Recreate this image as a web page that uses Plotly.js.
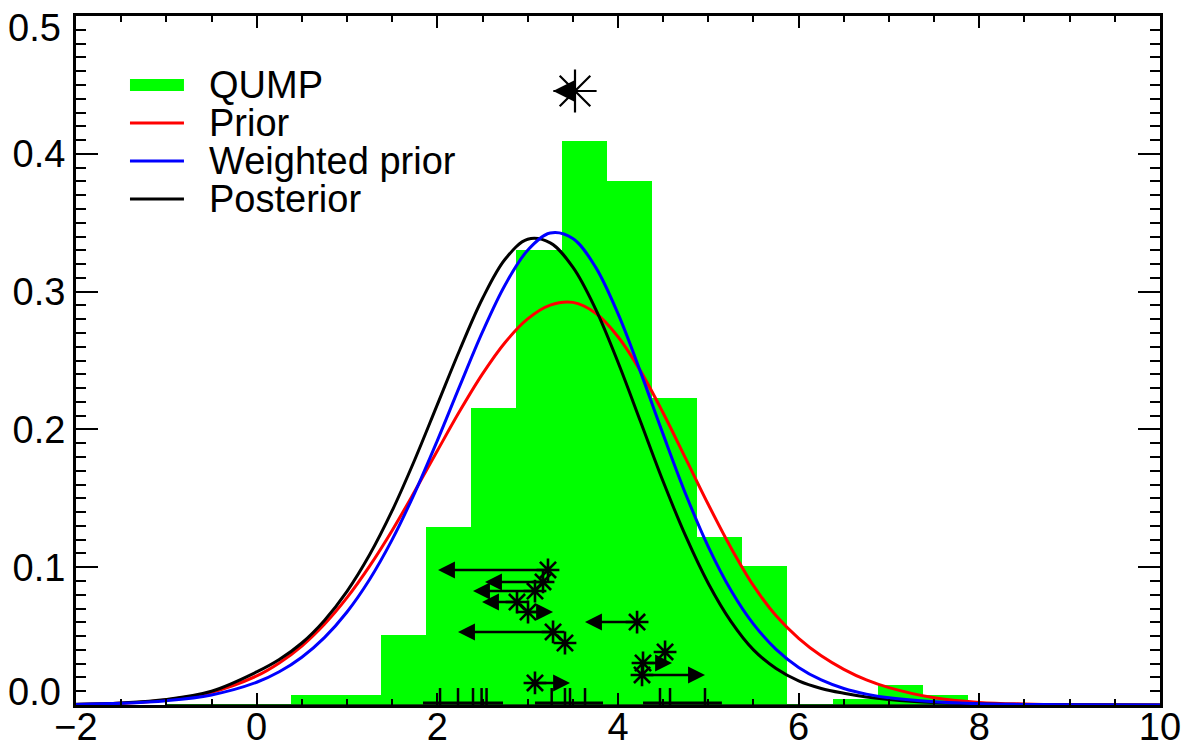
<!DOCTYPE html>
<html>
<head>
<meta charset="utf-8">
<script src="https://cdn.plot.ly/plotly-3.0.1.min.js"></script>
<style>
  html, body { margin: 0; padding: 0; background: #ffffff; }
  #chart { width: 1183px; height: 748px; }
</style>
</head>
<body>
<div id="chart"></div>
<script>
// ---- QUMP ensemble histogram (density per 0.5-wide bin) ----
const binLeft = [0.375, 0.875, 1.375, 1.875, 2.375, 2.875, 3.375, 3.875, 4.375, 4.875, 5.375, 5.875, 6.375, 6.875, 7.375];
const binWidth = 0.5;
const qumpDensity = [0.0073, 0.0073, 0.051, 0.129, 0.2155, 0.330, 0.409, 0.380, 0.223, 0.122, 0.101, 0.0, 0.0044, 0.0145, 0.0073];
const histSpan = [-1.0, 8.0];

// ---- Probability density curves ----
const curveX = [-2, -1.5, -1, -0.5,
  0, 0.25, 0.5, 0.75, 1, 1.25, 1.5, 1.75, 2, 2.25, 2.5, 2.75, 3, 3.25, 3.5, 3.75,
  4, 4.25, 4.5, 4.75, 5, 5.25, 5.5, 5.75, 6, 6.25, 6.5, 6.75, 7,
  7.5, 8, 8.5, 9, 10];
const prior = [0.0004, 0.0013, 0.0037, 0.0093,
  0.0211, 0.0305, 0.0428, 0.0586, 0.0779, 0.1008, 0.1267, 0.1551, 0.1845, 0.2135, 0.2403, 0.2631, 0.2802, 0.2902, 0.2922, 0.2845,
  0.2673, 0.2423, 0.2119, 0.1788, 0.1455, 0.1142, 0.0866, 0.0647, 0.0484, 0.0357, 0.0259, 0.0182, 0.0126,
  0.0052, 0.0019, 0.0007, 0.0002, 0.0];
const weightedPrior = [0.0004, 0.0012, 0.0031, 0.0073,
  0.0165, 0.0241, 0.0347, 0.0489, 0.0675, 0.0911, 0.120, 0.154, 0.1919, 0.2318, 0.2708, 0.3049, 0.330, 0.3425, 0.3386, 0.318,
  0.284, 0.2416, 0.1964, 0.153, 0.1148, 0.0833, 0.0587, 0.0404, 0.0273, 0.0182, 0.012, 0.0079, 0.0052,
  0.0023, 0.0009, 0.0004, 0.0001, 0.0];
const posterior = [0.0005, 0.0015, 0.004, 0.010,
  0.024, 0.033, 0.045, 0.0614, 0.0825, 0.109, 0.141, 0.178, 0.218, 0.258, 0.295, 0.3235, 0.338, 0.3354, 0.3178, 0.2877,
  0.2488, 0.2056, 0.1622, 0.1225, 0.0882, 0.0607, 0.040, 0.0265, 0.0175, 0.012, 0.0085, 0.0058, 0.004,
  0.0018, 0.0008, 0.0003, 0.0001, 0.0];

// ---- Individual estimates (asterisks) and where their arrows point ----
const starX = [3.225, 3.170, 3.081, 2.882, 3.004, 4.211, 3.281, 3.413, 4.521, 4.277, 4.266, 3.081];
const starY = [0.098, 0.0893, 0.0827, 0.0747, 0.0675, 0.0602, 0.053, 0.045, 0.0385, 0.0305, 0.0218, 0.016];
const arrowTo = [2.008, 2.528, 2.395, 2.495, 3.281, 3.635, 2.229, null, null, 4.598, 4.963, 3.469];

// Ensemble summary marker near the top
const meanX = [3.524];
const meanY = [0.4456];
const meanArrowTo = [3.281];

// ---- Rug of constrained values and their group ranges ----
const rugX = [2.03, 2.229, 2.395, 2.49, 2.545, 3.266, 3.413, 3.469, 3.635, 4.465, 4.576, 4.963];
const rugHeight = 0.0123;
const rangeLo = [1.841, 3.081, 4.277];
const rangeHi = [2.727, 3.834, 5.15];
const rangeY = 0.0015;

// ---- Axis ticks ----
const xTickVals = [-2, 0, 2, 4, 6, 8, 10];
const yTickVals = [0.0, 0.1, 0.2, 0.3, 0.4, 0.5];

// ---- Legend entries ----
const legendLabels = ['QUMP', 'Prior', 'Weighted prior', 'Posterior'];
const legendColors = ['#00ff00', '#ff0000', '#0000ff', '#000000'];
const legendWidths = [12, 3, 3, 3];

const FONT = 'Liberation Sans, Arial, Helvetica, sans-serif';

// helper: turn pairs of x ranges into one broken polyline
function segments(x0s, x1s, y0s, y1s) {
  const xs = [], ys = [];
  for (let i = 0; i < x0s.length; i++) {
    xs.push(x0s[i], x1s[i], null);
    ys.push(y0s[i], y1s[i], null);
  }
  return { x: xs, y: ys };
}

const traces = [];

// histogram bars
traces.push({
  type: 'bar',
  x: binLeft.map(b => b + binWidth / 2),
  y: qumpDensity,
  width: binWidth,
  marker: { color: '#00ff00', line: { width: 0 } },
  hoverinfo: 'x+y',
  showlegend: false
});

// histogram baseline
traces.push({
  type: 'scatter', mode: 'lines',
  x: histSpan, y: histSpan.map(() => 0),
  line: { color: '#0b5d0b', width: 2 },
  hoverinfo: 'skip', showlegend: false
});

const curveDefs = [
  { y: prior, color: '#ff0000' },
  { y: posterior, color: '#000000' },
  { y: weightedPrior, color: '#0000ff' }
];
curveDefs.forEach(c => {
  traces.push({
    type: 'scatter', mode: 'lines',
    x: curveX, y: c.y,
    line: { color: c.color, width: 3, shape: 'spline', smoothing: 1 },
    showlegend: false
  });
});

// rug ticks
const rug = segments(rugX, rugX, rugX.map(() => 0), rugX.map(() => rugHeight));
traces.push({
  type: 'scatter', mode: 'lines', x: rug.x, y: rug.y,
  line: { color: '#000', width: 2.5 }, hoverinfo: 'skip', showlegend: false
});
// group ranges
const rng = segments(rangeLo, rangeHi, rangeLo.map(() => rangeY), rangeLo.map(() => rangeY));
traces.push({
  type: 'scatter', mode: 'lines', x: rng.x, y: rng.y,
  line: { color: '#000', width: 3 }, hoverinfo: 'skip', showlegend: false
});

// asterisks
traces.push({
  type: 'scatter', mode: 'markers', x: starX, y: starY,
  marker: { symbol: 'asterisk-open', size: 19, color: '#000', line: { color: '#000', width: 2.6 } },
  showlegend: false
});
traces.push({
  type: 'scatter', mode: 'markers', x: meanX, y: meanY,
  marker: { symbol: 'asterisk-open', size: 36, color: '#000', line: { color: '#000', width: 2.2 } },
  showlegend: false
});

// arrows from each asterisk
const annotations = [];
starX.forEach((sx, i) => {
  if (arrowTo[i] === null) return;
  annotations.push({
    x: arrowTo[i], y: starY[i], ax: sx, ay: starY[i],
    xref: 'x', yref: 'y', axref: 'x', ayref: 'y',
    text: '', showarrow: true, arrowhead: 2, arrowsize: 1.3, arrowwidth: 2.6,
    arrowcolor: '#000', standoff: 0, startstandoff: 0
  });
});
meanX.forEach((mx, i) => {
  annotations.push({
    x: meanArrowTo[i], y: meanY[i], ax: mx, ay: meanY[i],
    xref: 'x', yref: 'y', axref: 'x', ayref: 'y',
    text: '', showarrow: true, arrowhead: 2, arrowsize: 1.5, arrowwidth: 3,
    arrowcolor: '#000', standoff: 0, startstandoff: 0
  });
});

// legend (drawn in paper coordinates)
const legX0 = 0.0498, legX1 = 0.0996, legTextX = 0.1208, legTop = 0.8999, legStep = 0.0552;
const shapes = [];
legendLabels.forEach((lab, i) => {
  const yy = legTop - i * legStep;
  shapes.push({
    type: 'line', xref: 'paper', yref: 'paper',
    x0: legX0, x1: legX1, y0: yy, y1: yy,
    line: { color: legendColors[i], width: legendWidths[i] }
  });
  annotations.push({
    xref: 'paper', yref: 'paper', x: legTextX, y: yy,
    xanchor: 'left', yanchor: 'middle', showarrow: false,
    text: lab, font: { family: FONT, size: 38, color: '#000' }
  });
});

const tickFont = { family: FONT, size: 38, color: '#000' };

// the first and last y labels are nudged inside the frame so they clear the corners
const yEnds = [0, yTickVals.length - 1];
yEnds.forEach(k => {
  annotations.push({
    xref: 'paper', yref: 'y', x: 0, y: yTickVals[k],
    xanchor: 'right', yanchor: 'middle', xshift: -13,
    yshift: k === 0 ? 13 : -12,
    showarrow: false, text: yTickVals[k].toFixed(1), font: tickFont
  });
});

const axisCommon = {
  showline: true, linecolor: '#000', linewidth: 3, mirror: 'ticks',
  ticks: 'inside', tickcolor: '#000', tickwidth: 2,
  showgrid: false, zeroline: false,
  tickfont: tickFont,
  ticklabeloverflow: 'allow',
  automargin: false
};

const layout = {
  width: 1183, height: 748,
  margin: { l: 76, r: 23, t: 16, b: 43, pad: 0 },
  paper_bgcolor: '#ffffff', plot_bgcolor: '#ffffff',
  showlegend: false,
  bargap: 0,
  xaxis: Object.assign({}, axisCommon, {
    range: [-2, 10.0001], tickmode: 'array', tickvals: xTickVals,
    ticktext: xTickVals.map(v => v < 0 ? '\u2212' + Math.abs(v) : String(v)),
    ticklen: 12, ticklabelstandoff: -14,
    minor: { tickmode: 'linear', tick0: 0, dtick: 0.5, ticklen: 6, tickwidth: 2, tickcolor: '#000', ticks: 'inside' }
  }),
  yaxis: Object.assign({}, axisCommon, {
    range: [0, 0.50005], tickmode: 'array',
    tickvals: yTickVals.slice(1, -1), ticktext: yTickVals.slice(1, -1).map(v => v.toFixed(1)),
    ticklen: 22,
    minor: { tickmode: 'linear', tick0: 0, dtick: 0.01, ticklen: 10, tickwidth: 2, tickcolor: '#000', ticks: 'inside' }
  }),
  shapes: shapes,
  annotations: annotations
};

Plotly.newPlot('chart', traces, layout, { displayModeBar: false, staticPlot: true });
</script>
</body>
</html>
